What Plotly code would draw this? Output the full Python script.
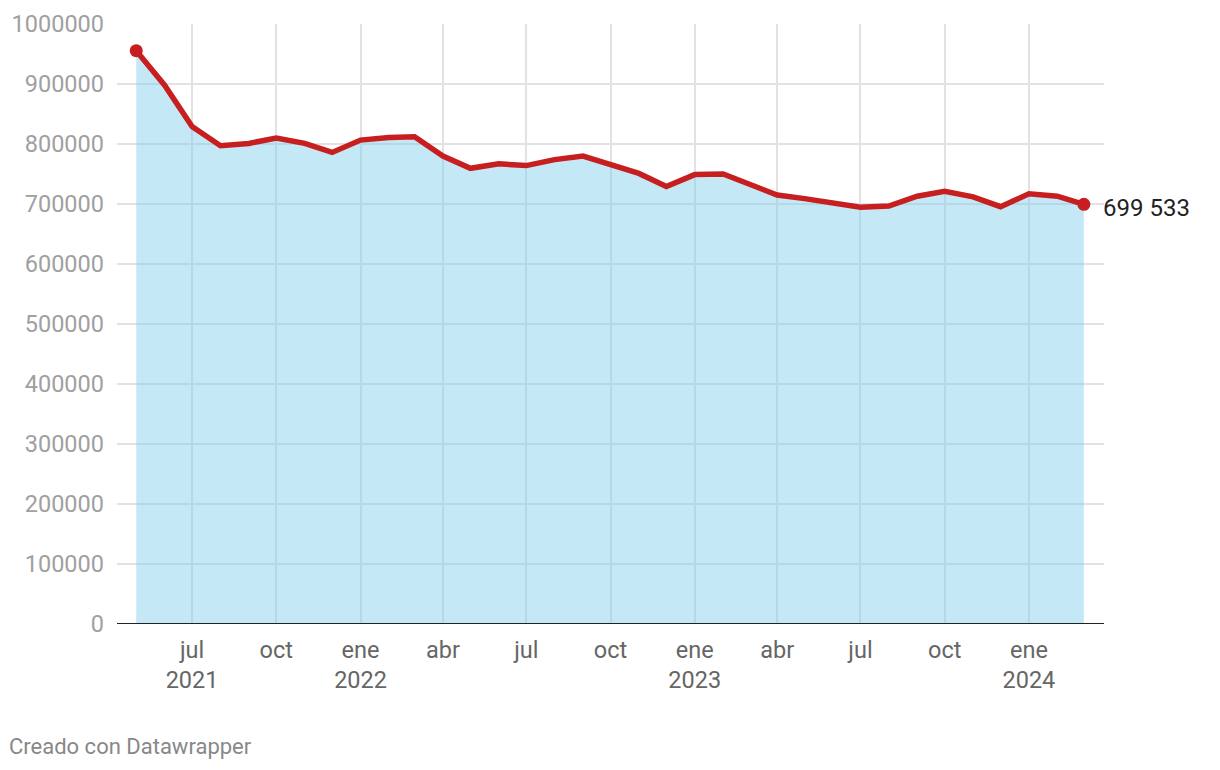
import plotly.graph_objects as go
import pandas as pd

months = pd.date_range("2021-05-01", "2024-03-01", freq="MS")
values = [955500, 898000, 829000, 797000, 801000, 810000, 801000, 786000, 806500, 811000,
          812000, 780000, 759500, 767000, 764000, 774000, 780000, 765000, 751000, 729000,
          749000, 750000, 733000, 715000, 709000, 701000, 694500, 696500, 713000, 721000,
          712000, 695500, 717000, 713000, 699533]

tick_vals = ["2021-07-01", "2021-10-01", "2022-01-01", "2022-04-01", "2022-07-01", "2022-10-01",
             "2023-01-01", "2023-04-01", "2023-07-01", "2023-10-01", "2024-01-01"]
tick_text = ["jul<br>2021", "oct", "ene<br>2022", "abr", "jul", "oct",
             "ene<br>2023", "abr", "jul", "oct", "ene<br>2024"]
y_ticks = [0, 100000, 200000, 300000, 400000, 500000, 600000, 700000, 800000, 900000, 1000000]

RED = "#c71f1f"
FONT = "Roboto"

fig = go.Figure()
fig.add_trace(go.Scatter(
    x=months, y=values, mode="lines", fill="tozeroy",
    fillcolor="rgba(126,204,237,0.45)",
    line=dict(color=RED, width=5.5, shape="linear"),
    hoverinfo="skip", showlegend=False,
))
fig.add_trace(go.Scatter(
    x=[months[0], months[-1]], y=[values[0], values[-1]], mode="markers",
    marker=dict(color=RED, size=13), hoverinfo="skip", showlegend=False,
))

fig.add_annotation(
    x=months[-1], y=values[-1], xref="x", yref="y",
    text=f"{values[-1]:,}".replace(",", " "), showarrow=False,
    xanchor="left", yanchor="middle", xshift=17, yshift=-4,
    font=dict(family=FONT, size=24, color="#222222"),
)
fig.add_annotation(
    x=(7 - 117) / 987, y=-(746 - 624) / 600, xref="paper", yref="paper",
    xanchor="left", yanchor="middle",
    text="Creado con Datawrapper", showarrow=False,
    font=dict(family=FONT, size=22, color="#888888"),
)

fig.update_layout(
    width=1220, height=770,
    margin=dict(l=117, r=116, t=24, b=146, autoexpand=False),
    paper_bgcolor="white", plot_bgcolor="white",
    font=dict(family=FONT),
    xaxis=dict(
        range=["2021-04-10", "2024-03-23"],
        tickvals=tick_vals, ticktext=tick_text,
        showgrid=True, gridcolor="#e2e2e2", gridwidth=2,
        ticks="", tickfont=dict(family=FONT, size=23.5, color="#666666"),
        ticklabelstandoff=9, automargin=False,
        showline=False, zeroline=False,
    ),
    yaxis=dict(
        range=[0, 1000000], tickvals=y_ticks, ticktext=[str(v) for v in y_ticks],
        showgrid=True, gridcolor="#e2e2e2", gridwidth=2,
        ticks="", tickfont=dict(family=FONT, size=23.5, color="#a0a0a0"),
        ticklabelstandoff=12, automargin=False,
        zeroline=False, showline=False,
    ),
    shapes=[dict(type="line", xref="paper", yref="y", x0=0, x1=1, y0=0, y1=0,
                 line=dict(color="#222222", width=2), layer="above")],
)

fig.write_html("out.html")
